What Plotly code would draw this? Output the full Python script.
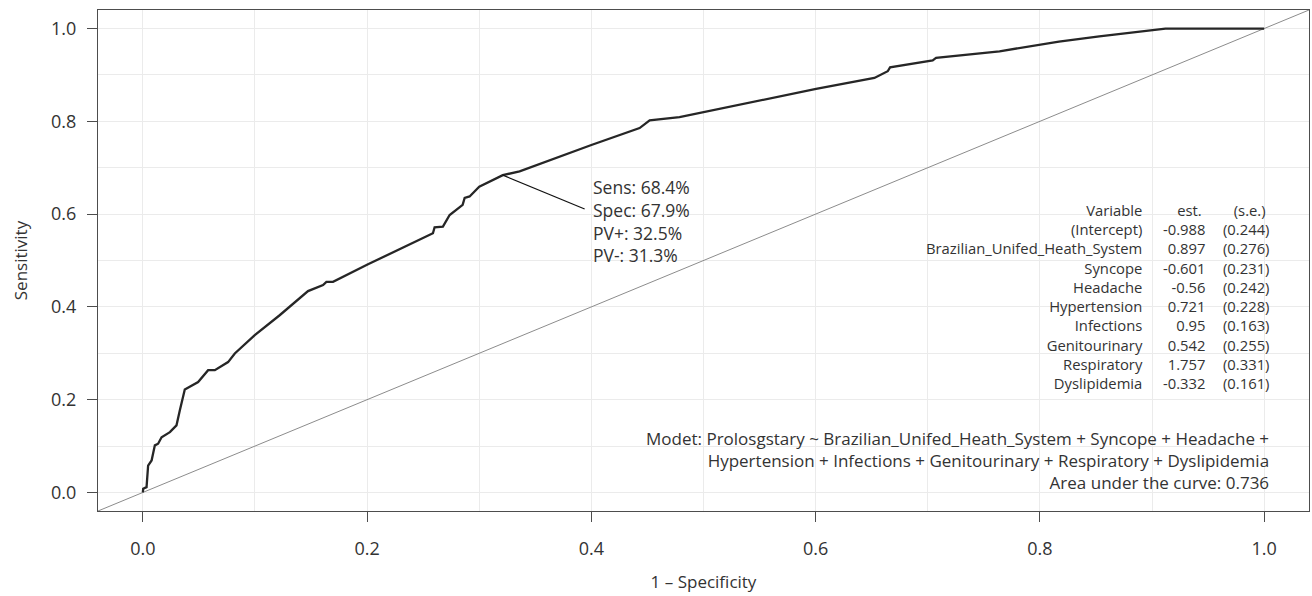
import plotly.graph_objects as go

# ROC curve values
fpr = [0, 0.0003, 0.0033, 0.0047, 0.0078, 0.0107, 0.0136, 0.0167, 0.0241, 0.030, 0.033, 0.0374,
       0.0493, 0.0582, 0.0642, 0.076, 0.082, 0.0998, 0.122, 0.1355, 0.1473, 0.1607, 0.1637, 0.1696,
       0.2008, 0.2587, 0.2602, 0.2676, 0.2736, 0.2852, 0.287, 0.2914, 0.300, 0.321, 0.336, 0.40,
       0.443, 0.452, 0.4786, 0.6004, 0.6524, 0.6643, 0.6664, 0.7044, 0.7074, 0.764, 0.7816, 0.817,
       0.853, 0.912, 1.0]
tpr = [0, 0.008, 0.0114, 0.058, 0.069, 0.1015, 0.105, 0.119, 0.130, 0.1447, 0.177, 0.2218,
       0.238, 0.2635, 0.2635, 0.281, 0.2996, 0.339, 0.382, 0.409, 0.434, 0.447, 0.454, 0.454,
       0.4918, 0.5588, 0.5717, 0.573, 0.598, 0.62, 0.635, 0.638, 0.659, 0.684, 0.692, 0.749,
       0.7855, 0.802, 0.809, 0.870, 0.8935, 0.908, 0.9164, 0.9315, 0.9367, 0.951, 0.958, 0.972,
       0.983, 1.0, 1.0]

cut_fpr = 0.321
cut_tpr = 0.684
cut_labels = ["Sens: 68.4%", "Spec: 67.9%", "PV+: 32.5%", "PV-: 31.3%"]

variables = ["(Intercept)", "Brazilian_Unifed_Heath_System", "Syncope", "Headache",
             "Hypertension", "Infections", "Genitourinary", "Respiratory", "Dyslipidemia"]
estimates = ["-0.988", "0.897", "-0.601", "-0.56", "0.721", "0.95", "0.542", "1.757", "-0.332"]
std_errors = ["(0.244)", "(0.276)", "(0.231)", "(0.242)", "(0.228)", "(0.163)", "(0.255)",
              "(0.331)", "(0.161)"]

model_lines = ["Modet: Prolosgstary ~ Brazilian_Unifed_Heath_System + Syncope + Headache +",
               "Hypertension + Infections + Genitourinary + Respiratory + Dyslipidemia",
               "Area under the curve: 0.736"]

x_ticks = [0.0, 0.2, 0.4, 0.6, 0.8, 1.0]
y_ticks = [0.0, 0.2, 0.4, 0.6, 0.8, 1.0]

FONT = "Open Sans"
TXT = "#333333"

fig = go.Figure()

# diagonal reference line
fig.add_trace(go.Scatter(x=[-0.04, 1.04], y=[-0.04, 1.04], mode="lines",
                         line=dict(color="#8c8c8c", width=1), hoverinfo="skip", showlegend=False))
# ROC curve
fig.add_trace(go.Scatter(x=fpr, y=tpr, mode="lines",
                         line=dict(color="#262626", width=2.3), showlegend=False))
# leader line to label
fig.add_trace(go.Scatter(x=[cut_fpr, 0.394], y=[cut_tpr, 0.611], mode="lines",
                         line=dict(color="#111111", width=1.2), showlegend=False, hoverinfo="skip"))

annotations = []
# cut-point labels (one block)
annotations.append(dict(x=0.4, y=(492 - 221) / 463, xref="x", yref="y",
                        text="<br>".join(cut_labels), align="left",
                        showarrow=False, xanchor="left", yanchor="middle",
                        font=dict(family=FONT, size=17.5, color=TXT)))

# coefficient table: three right-aligned column blocks
tfont = dict(family=FONT, size=14.8, color=TXT)
table_y = (492 - 296.3) / 463
columns = [
    (0.894, ["Variable"] + variables),
    (0.950, ["est.&nbsp;"] + estimates),
    (1.006, ["(s.e.)&nbsp;"] + std_errors),
]
for cx, rows in columns:
    annotations.append(dict(x=cx, y=table_y, xref="x", yref="y", text="<br>".join(rows),
                            align="right", showarrow=False, xanchor="right", yanchor="middle",
                            font=tfont))

# model description (one block)
annotations.append(dict(x=1.006, y=(492 - 460) / 463, xref="x", yref="y",
                        text="<br>".join(model_lines), align="right",
                        showarrow=False, xanchor="right", yanchor="middle",
                        font=dict(family=FONT, size=17, color=TXT)))

axis_common = dict(
    showgrid=True, gridcolor="#ebebeb", gridwidth=1, zeroline=False,
    showline=True, linecolor="#4d4d4d", linewidth=1, mirror=True,
    ticks="outside", ticklen=10, tickcolor="#4d4d4d", tickwidth=1,
    tickfont=dict(family=FONT, size=18, color=TXT),
    minor=dict(dtick=0.1, showgrid=True, gridcolor="#ebebeb", ticks=""),
)

fig.update_layout(
    width=1312, height=596,
    margin=dict(l=98, r=3, t=10, b=85),
    plot_bgcolor="white", paper_bgcolor="white",
    annotations=annotations,
    xaxis=dict(range=[-0.04, 1.04], tickvals=x_ticks, tickformat=".1f",
               ticklabelstandoff=11,
               title=dict(text="1 – Specificity", font=dict(family=FONT, size=17, color=TXT),
                          standoff=17),
               **axis_common),
    yaxis=dict(range=[-0.04, 1.04], tickvals=y_ticks, tickformat=".1f",
               ticklabelstandoff=7,
               title=dict(text="Sensitivity", font=dict(family=FONT, size=17, color=TXT),
                          standoff=19),
               **axis_common),
)

fig.write_html("out.html")
